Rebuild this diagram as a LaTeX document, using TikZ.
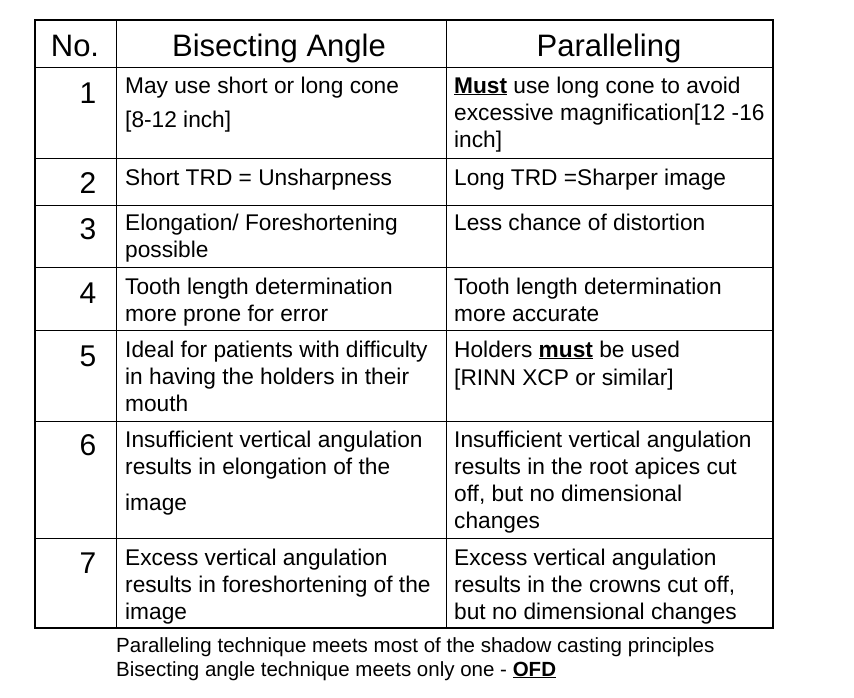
\documentclass[tikz,border=0pt]{standalone}
\usepackage{fontspec}
\setmainfont{Liberation Sans}
\usetikzlibrary{positioning}
\begin{document}
\begin{tikzpicture}[x=1pt,y=-1pt,
  txt/.style={anchor=base west, inner sep=0pt, font=\fontsize{22.7}{26}\selectfont},
  num/.style={anchor=base, inner sep=0pt, font=\fontsize{30}{34}\selectfont},
  head/.style={anchor=base, inner sep=0pt, font=\fontsize{31}{34}\selectfont},
  foot/.style={anchor=base west, inner sep=0pt, font=\fontsize{20.5}{24}\selectfont},
  grid/.style={line width=1pt},
  frame/.style={line width=1.8pt}
]
\useasboundingbox (0,0) rectangle (854,697);
% grid
\foreach \yy in {67,158,205,267,330,421,538}
  \draw[grid] (35,\yy) -- (773,\yy);
\foreach \xx in {116,446}
  \draw[grid] (\xx,20) -- (\xx,628);
\draw[frame] (35,20) rectangle (773,628);
% header
\node[head] (hno) at (75,56) {No.};
\node[head] (hbis) at (279,56) {Bisecting Angle};
\node[head] (hpar) at (609,56) {Paralleling};
% numbers
\foreach \n/\yy in {1/103,2/193,3/239,4/303,5/366,6/455,7/573}
  \node[num] (n\n) at (88,\yy) {\n};
% left column
\foreach \t/\yy in {May use short or long cone/93,[8-12 inch]/127,
  Short TRD = Unsharpness/185,
  {Elongation/ Foreshortening}/230,possible/257,
  Tooth length determination/294,more prone for error/321,
  Ideal for patients with difficulty/357,in having the holders in their/384,mouth/411,
  Insufficient vertical angulation/447,results in elongation of the/474,image/510,
  Excess vertical angulation/565,results in foreshortening of the/592,image/619}
  \node[txt] at (125,\yy) {\t};
% right column
\node[txt] at (454,93) {\underline{\textbf{Must}} use long cone to avoid};
\foreach \t/\yy in {excessive magnification[12 -16/120,inch]/147,
  Long TRD =Sharper image/185,
  Less chance of distortion/230,
  Tooth length determination/294,more accurate/321,
  [RINN XCP or similar]/385,
  Insufficient vertical angulation/447,results in the root apices cut/474,
  {off, but no dimensional}/501,changes/528,
  Excess vertical angulation/565,{results in the crowns cut off,}/592,
  but no dimensional changes/619}
  \node[txt] at (454,\yy) {\t};
\node[txt] at (454,357) {Holders \underline{\textbf{must}} be used};
% footer
\node[foot] (f1) at (116,652) {Paralleling technique meets most of the shadow casting principles};
\node[foot] (f2) at (116,676) {Bisecting angle technique meets only one - \underline{\textbf{OFD}}};
\end{tikzpicture}
\end{document}
